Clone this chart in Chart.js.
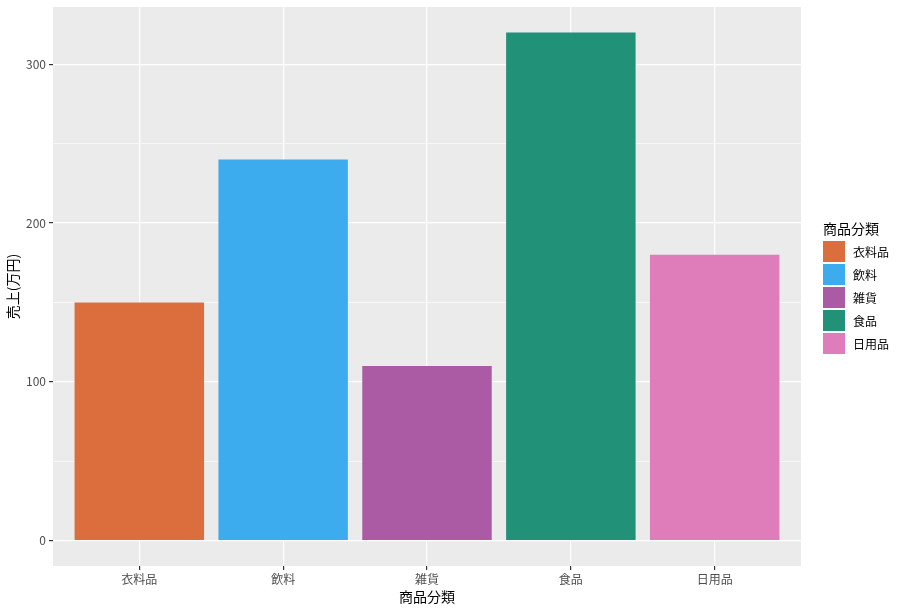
<!DOCTYPE html>
<html><head><meta charset="utf-8">
<script src="https://cdn.jsdelivr.net/npm/chart.js@4/dist/chart.umd.min.js"></script>
<style>
html,body{margin:0;padding:0;background:#fff;}
#wrap{position:relative;width:904px;height:611px;}
#legend{position:absolute;left:823px;top:218px;font-family:"Noto Sans CJK JP",sans-serif;color:#000;}
#legend .t{font-size:14px;height:22px;line-height:20px;}
#legend .r{display:flex;align-items:center;height:23px;}
#legend .s{width:22px;height:21px;margin-right:8px;}
#legend .l{font-size:12px;}
</style>
</head><body>
<div id="wrap"><canvas id="c" width="904" height="611"></canvas><div id="legend"></div></div>
<script>
const categories = ["衣料品","飲料","雑貨","食品","日用品"];
const sales = [150, 240, 110, 320, 180];
const colors = ["#DC6D3C","#3DACEE","#AA5BA3","#219277","#DE7DB9"];
const yTicks = [0, 50, 100, 150, 200, 250, 300];
const legendTitle = "商品分類";
const yTitle = "売上(万円)";
const xTitle = "商品分類";

const font = '"Noto Sans CJK JP", sans-serif';
const panelBg = {
  id:'panelBg',
  beforeDraw(chart){
    const {ctx, chartArea:a} = chart;
    ctx.save(); ctx.fillStyle = '#EBEBEB';
    ctx.fillRect(a.left, a.top, a.right - a.left, a.bottom - a.top);
    ctx.restore();
  }
};
new Chart(document.getElementById('c'), {
  type:'bar',
  data:{
    datasets:[{
      data: categories.map((c,i)=>({x:i+1, y:sales[i]})),
      backgroundColor: colors,
      barPercentage:0.9, categoryPercentage:1.0, borderWidth:0
    }]
  },
  options:{
    responsive:false, animation:false, devicePixelRatio:1,
    layout:{padding:{top:7,right:103,bottom:0,left:0}},
    plugins:{legend:{display:false}, tooltip:{enabled:false}},
    scales:{
      x:{
        type:'linear', min:0.4, max:5.6, offset:false,
        afterBuildTicks(s){ s.ticks = categories.map((c,i)=>({value:i+1})); },
        afterFit(s){ s.height = 45; s.paddingLeft = 0; s.paddingRight = 0; },
        ticks:{ callback:(v)=>categories[Math.round(v)-1] ?? '', color:'#4D4D4D', font:{family:font,size:12}, padding:2, maxRotation:0, autoSkip:false },
        grid:{ offset:false, color:'#FFFFFF', lineWidth:1.2, tickColor:'#333333', tickLength:4, drawTicks:true },
        border:{display:false},
        title:{display:true, text:xTitle, color:'#000', font:{family:font,size:14}, padding:{top:0,bottom:6}}
      },
      y:{
        min:-16, max:336,
        afterBuildTicks(s){ s.ticks = yTicks.map(v=>({value:v})); },
        afterFit(s){ s.width = 53; s.paddingTop = 0; s.paddingBottom = 0; },
        ticks:{ callback:(v)=> v%100===0 ? String(v) : '', color:'#4D4D4D', font:{family:font,size:12}, padding:3 },
        grid:{
          offset:false,
          color:'#FFFFFF',
          lineWidth:(ctx)=> (ctx.tick && ctx.tick.value%100===0) ? 1.2 : 0.6,
          tickColor:(ctx)=> (ctx.tick && ctx.tick.value%100===0) ? '#333333' : 'rgba(0,0,0,0)',
          tickLength:4
        },
        border:{display:false},
        title:{display:true, text:yTitle, color:'#000', font:{family:font,size:14}, padding:{top:4,bottom:0}}
      }
    }
  },
  plugins:[panelBg]
});
const lg = document.getElementById('legend');
let html = '<div class="t">'+legendTitle+'</div>';
categories.forEach((c,i)=>{ html += '<div class="r"><div class="s" style="background:'+colors[i]+'"></div><div class="l">'+c+'</div></div>'; });
lg.innerHTML = html;
</script>
</body></html>
